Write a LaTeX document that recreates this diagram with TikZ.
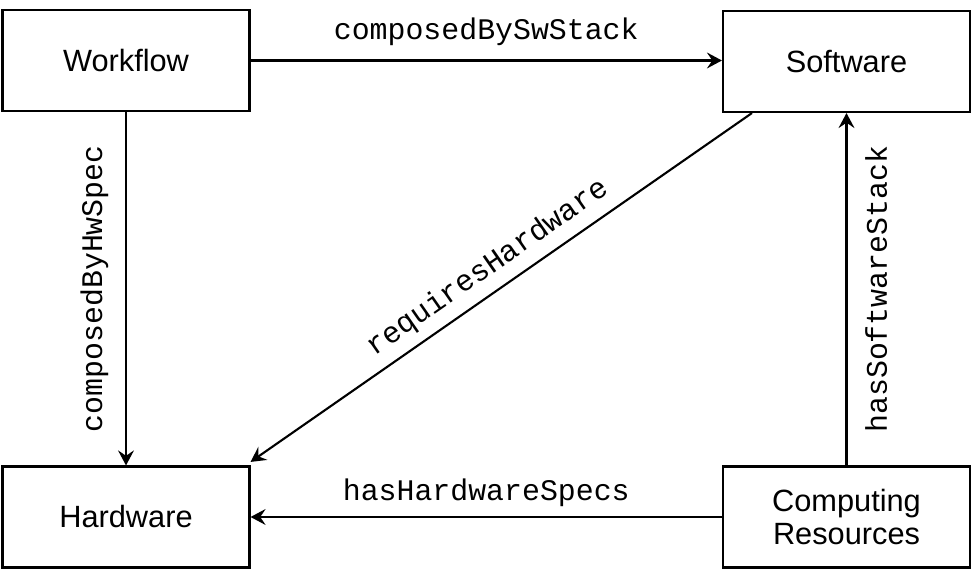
\documentclass[tikz,border=0pt]{standalone}
\usepackage{fontspec}
\setmainfont{Liberation Sans}
\newfontfamily\codefont{Liberation Mono}
\usetikzlibrary{arrows.meta}

\begin{document}
\begin{tikzpicture}[line width=1.2pt]
\tikzset{
  entity/.style={draw, minimum width=4.94cm, minimum height=2.02cm, align=center, font=\fontsize{17.5}{18.5}\selectfont},
  relation/.style={font=\codefont\fontsize{17}{20}\selectfont, inner sep=2pt},
  link/.style={-{Stealth[length=8.5pt,width=9pt,inset=3pt]}}
}
\useasboundingbox (0,0) rectangle (19.46,11.4);

\node[entity] (workflow) at (2.52,10.19) {Workflow};
\node[entity] (software) at (16.93,10.17) {Software};
\node[entity] (hardware) at (2.52,1.06) {Hardware};
\node[entity] (resources) at (16.93,1.06) {Computing\\Resources};

\draw[link] (workflow.east) -- node[relation, above=6pt] {composedBySwStack} (workflow.east -| software.west);
\draw[link] (workflow.south) -- (hardware.north);
\path (hardware.north) -- node[relation, sloped, above=7.5pt] {composedByHwSpec} (hardware.north |- workflow.south);
\draw[link] ([xshift=0.6cm]software.south west) -- node[relation, sloped, above=3pt] {requiresHardware} ([yshift=2pt]hardware.north east);
\draw[link] (resources.north) -- node[relation, sloped, below=8pt] {hasSoftwareStack} (resources.north |- software.south);
\draw[link] (resources.west) -- node[relation, above=3.5pt] {hasHardwareSpecs} (resources.west -| hardware.east);
\end{tikzpicture}
\end{document}
